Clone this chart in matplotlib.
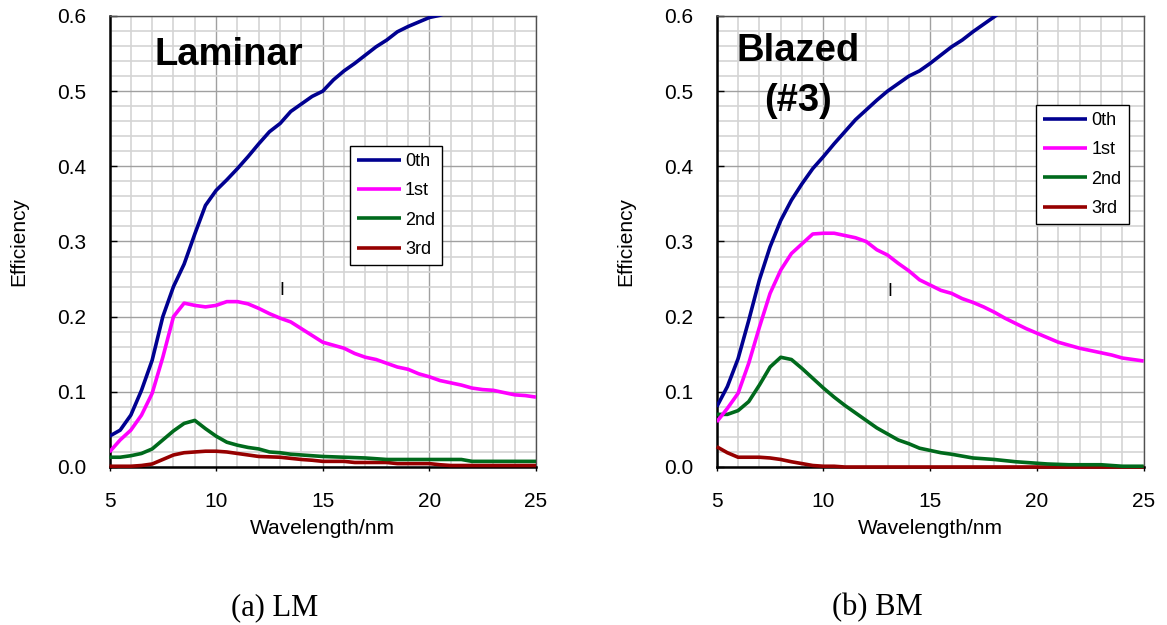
import numpy as np
import matplotlib
matplotlib.use("Agg")
import matplotlib.pyplot as plt
from matplotlib.ticker import MultipleLocator

plt.rcParams['font.family'] = ['Liberation Sans', 'DejaVu Sans']

# wavelength grid (nm)
wl = np.arange(5, 25.01, 0.5)

# (a) Laminar
lm_0th = [0.041, 0.049, 0.069, 0.102, 0.142, 0.200, 0.240, 0.270, 0.310, 0.348,
          0.368, 0.382, 0.397, 0.413, 0.430, 0.446, 0.457, 0.473, 0.483, 0.493,
          0.500, 0.515, 0.527, 0.537, 0.548, 0.559, 0.568, 0.579, 0.586, 0.592,
          0.598, 0.601, 0.606]
lm_1st = [0.020, 0.036, 0.049, 0.069, 0.098, 0.146, 0.200, 0.218, 0.215, 0.213,
          0.215, 0.220, 0.220, 0.217, 0.211, 0.204, 0.198, 0.193, 0.184, 0.175,
          0.166, 0.162, 0.158, 0.151, 0.146, 0.143, 0.138, 0.133, 0.130, 0.124,
          0.120, 0.115, 0.112, 0.109, 0.105, 0.103, 0.102, 0.099, 0.096, 0.095,
          0.093]
lm_2nd = [0.013, 0.013, 0.015, 0.018, 0.024, 0.036, 0.048, 0.058, 0.062, 0.051,
          0.041, 0.033, 0.029, 0.026, 0.024, 0.020, 0.019, 0.017, 0.016, 0.015,
          0.014, 0.0135, 0.013, 0.0125, 0.012, 0.011, 0.010, 0.010, 0.010, 0.010,
          0.010, 0.010, 0.010, 0.010, 0.0075, 0.0075, 0.0075, 0.0075, 0.0075, 0.0075,
          0.0075]
lm_3rd = [0.001, 0.001, 0.001, 0.002, 0.004, 0.010, 0.016, 0.019, 0.020, 0.021,
          0.021, 0.020, 0.018, 0.016, 0.014, 0.0135, 0.013, 0.0115, 0.010, 0.009,
          0.0075, 0.0075, 0.0075, 0.006, 0.006, 0.006, 0.006, 0.0045, 0.0045, 0.0045,
          0.0045, 0.003, 0.002, 0.002, 0.002, 0.002, 0.002, 0.002, 0.002, 0.002,
          0.002]

# (b) Blazed (#3)
bm_0th = [0.080, 0.107, 0.144, 0.195, 0.249, 0.293, 0.328, 0.355, 0.377, 0.397,
          0.413, 0.430, 0.446, 0.462, 0.475, 0.488, 0.500, 0.510, 0.520, 0.527,
          0.537, 0.548, 0.559, 0.568, 0.579, 0.589, 0.599, 0.609]
bm_1st = [0.060, 0.078, 0.098, 0.138, 0.186, 0.231, 0.262, 0.284, 0.297, 0.310,
          0.311, 0.311, 0.308, 0.305, 0.300, 0.289, 0.282, 0.271, 0.261, 0.249,
          0.242, 0.235, 0.231, 0.224, 0.219, 0.213, 0.206, 0.198, 0.191, 0.184,
          0.178, 0.172, 0.166, 0.162, 0.158, 0.155, 0.152, 0.149, 0.145, 0.143,
          0.141]
bm_2nd = [0.070, 0.070, 0.075, 0.087, 0.109, 0.133, 0.146, 0.143, 0.131, 0.118,
          0.105, 0.093, 0.082, 0.072, 0.062, 0.052, 0.044, 0.036, 0.031, 0.025,
          0.022, 0.019, 0.017, 0.0145, 0.012, 0.011, 0.010, 0.0085, 0.007, 0.006,
          0.005, 0.004, 0.0035, 0.003, 0.003, 0.003, 0.003, 0.002, 0.001, 0.001,
          0.001]
bm_3rd = [0.027, 0.019, 0.013, 0.013, 0.013, 0.012, 0.010, 0.007, 0.0045, 0.002,
          0.001, 0.001, 0, 0, 0, 0, 0, 0, 0, 0,
          0, 0, 0, 0, 0, 0, 0, 0, 0, 0,
          0, 0, 0, 0, 0, 0, 0, 0, 0, 0,
          0]

labels = ['0th', '1st', '2nd', '3rd']
colors = ['#000090', '#ff00ff', '#006a1c', '#960000']

W, H = 1167, 625
fig = plt.figure(figsize=(W / 100, H / 100), dpi=100)
ax_a = fig.add_axes([109.5 / W, 158 / H, 426.5 / W, 451 / H])
ax_b = fig.add_axes([716.7 / W, 158 / H, 427 / W, 451 / H])


def draw_panel(ax, series, legend_anchor):
    for i, (vals, lab, col) in enumerate(zip(series, labels, colors)):
        low = i >= 2
        ax.plot(wl[:len(vals)], vals, color=col, lw=2.6, label=lab,
                solid_capstyle='butt', clip_on=not low, zorder=4 + (3 - i))
    ax.set_xlim(5, 25)
    ax.set_ylim(0, 0.6)
    ax.xaxis.set_major_locator(MultipleLocator(5))
    ax.xaxis.set_minor_locator(MultipleLocator(1))
    ax.yaxis.set_major_locator(MultipleLocator(0.1))
    ax.yaxis.set_minor_locator(MultipleLocator(0.02))
    ax.yaxis.set_major_formatter(plt.FormatStrFormatter('%.1f'))
    ax.grid(which='major', color='#a0a0a0', lw=1.0)
    ax.grid(which='minor', color='#d4d4d4', lw=1.2)
    ax.set_axisbelow(True)
    ax.tick_params(axis='y', which='major', direction='in', length=5,
                   width=1, pad=17, labelsize=15)
    ax.tick_params(axis='x', which='major', direction='out', length=3,
                   width=1, pad=15, labelsize=15)
    ax.tick_params(which='minor', length=0)
    for s in ['left', 'bottom']:
        ax.spines[s].set_color('black')
        ax.spines[s].set_linewidth(1.8)
    for s in ['top', 'right']:
        ax.spines[s].set_color('#505050')
        ax.spines[s].set_linewidth(1.0)
    ax.set_xlabel('Wavelength/nm', fontsize=15, labelpad=6)
    ax.set_ylabel('Efficiency', fontsize=15)
    ax.yaxis.set_label_coords(-0.19, 0.5)
    leg = ax.legend(loc='upper left', bbox_to_anchor=legend_anchor,
                    fontsize=13, frameon=True, fancybox=False,
                    edgecolor='black', framealpha=1, handlelength=2.4,
                    handletextpad=0.25, labelspacing=0.68, borderpad=0.4,
                    borderaxespad=0)
    leg.get_frame().set_linewidth(1.0)
    leg.set_zorder(10)


draw_panel(ax_a, [lm_0th, lm_1st, lm_2nd, lm_3rd], (0.564, 0.712))
draw_panel(ax_b, [bm_0th, bm_1st, bm_2nd, bm_3rd], (0.748, 0.803))

ax_a.text(7.09, 0.535, 'Laminar', fontsize=27.5, fontweight='bold',
          ha='left', va='baseline', zorder=8)
ax_b.text(8.8, 0.540, 'Blazed', fontsize=27.5, fontweight='bold',
          ha='center', va='baseline', zorder=8)
ax_b.text(8.8, 0.474, '(#3)', fontsize=27.5, fontweight='bold',
          ha='center', va='baseline', zorder=8)

ax_a.text(13.07, 0.235, 'I', fontsize=13, ha='center', va='center')
ax_b.text(13.1, 0.234, 'I', fontsize=13, ha='center', va='center')

fig.text(274.5 / W, 1 - 615 / H, '(a) LM', fontsize=22, ha='center',
         va='baseline', family='Liberation Serif')
fig.text(877 / W, 1 - 615 / H, '(b) BM', fontsize=22, ha='center',
         va='baseline', family='Liberation Serif')

fig.savefig('out.png', dpi=100)
